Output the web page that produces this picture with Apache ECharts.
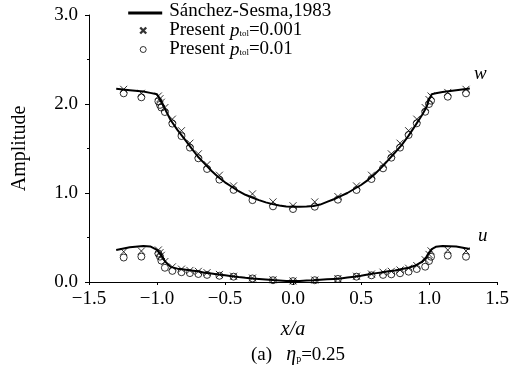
<!DOCTYPE html>
<html>
<head>
<meta charset="utf-8">
<script src="https://cdn.jsdelivr.net/npm/echarts@6/dist/echarts.min.js"></script>
<style>
  html, body { margin: 0; padding: 0; background: #fff; }
</style>
</head>
<body>
<div id="chart" style="width:516px; height:379px"></div>
<script>
// Sánchez-Sesma (1983) reference curves
var lineX = [-1.3, -1.2, -1.1, -1.05, -1.0, -0.97, -0.94, -0.9, -0.85, -0.8, -0.75, -0.7, -0.65, -0.6, -0.55, -0.5, -0.45, -0.4, -0.35, -0.3, -0.25, -0.2, -0.15, -0.1, -0.05, 0,
  0.05, 0.1, 0.15, 0.2, 0.25, 0.3, 0.35, 0.4, 0.45, 0.5, 0.55, 0.6, 0.65, 0.7, 0.75, 0.8, 0.85, 0.9, 0.95, 0.98, 1.0, 1.02, 1.05, 1.1, 1.2, 1.3];
var wLine = [2.17, 2.155, 2.14, 2.125, 2.11, 2.03, 1.94, 1.82, 1.71, 1.61, 1.51, 1.41, 1.33, 1.25, 1.18, 1.12, 1.07, 1.02, 0.98, 0.95, 0.92, 0.895, 0.875, 0.86, 0.848, 0.845,
  0.845, 0.848, 0.855, 0.87, 0.9, 0.93, 0.965, 1.0, 1.045, 1.09, 1.145, 1.21, 1.285, 1.37, 1.455, 1.54, 1.645, 1.76, 1.88, 1.96, 2.05, 2.11, 2.12, 2.135, 2.155, 2.175];
var uLine = [0.36, 0.39, 0.405, 0.40, 0.36, 0.30, 0.23, 0.17, 0.15, 0.14, 0.13, 0.12, 0.105, 0.095, 0.085, 0.075, 0.065, 0.055, 0.047, 0.04, 0.034, 0.028, 0.022, 0.017, 0.012, 0.01,
  0.012, 0.016, 0.02, 0.025, 0.03, 0.035, 0.04, 0.05, 0.058, 0.07, 0.085, 0.097, 0.108, 0.12, 0.13, 0.145, 0.16, 0.185, 0.23, 0.28, 0.33, 0.37, 0.395, 0.405, 0.40, 0.37];

// present method, sample points
var markX = [-1.245, -1.115, -0.99, -0.978, -0.968, -0.942, -0.887, -0.82, -0.758, -0.696, -0.632, -0.541, -0.437, -0.298, -0.147, 0.0,
  0.16, 0.33, 0.467, 0.577, 0.662, 0.723, 0.787, 0.85, 0.91, 0.972, 1.0, 1.015, 1.138, 1.272];
var wTol001 = [2.165, 2.12, 2.09, 2.06, 2.02, 1.96, 1.83, 1.70, 1.56, 1.44, 1.32, 1.20, 1.08, 0.99, 0.90, 0.857,
  0.90, 0.96, 1.08, 1.20, 1.32, 1.44, 1.56, 1.70, 1.83, 1.96, 2.05, 2.09, 2.13, 2.165];
var wTol01 = [2.12, 2.075, 2.03, 1.99, 1.96, 1.91, 1.78, 1.64, 1.51, 1.39, 1.27, 1.15, 1.035, 0.92, 0.85, 0.82,
  0.846, 0.925, 1.034, 1.157, 1.277, 1.397, 1.51, 1.652, 1.783, 1.913, 2.0, 2.037, 2.082, 2.12];
var uTol001 = [0.34, 0.348, 0.36, 0.33, 0.30, 0.23, 0.17, 0.145, 0.13, 0.12, 0.105, 0.085, 0.065, 0.045, 0.025, 0.012,
  0.022, 0.038, 0.065, 0.09, 0.11, 0.12, 0.135, 0.155, 0.185, 0.25, 0.31, 0.35, 0.36, 0.348];
var uTol01 = [0.275, 0.285, 0.32, 0.285, 0.24, 0.16, 0.125, 0.11, 0.10, 0.09, 0.08, 0.07, 0.06, 0.04, 0.02, 0.01,
  0.02, 0.035, 0.06, 0.075, 0.08, 0.086, 0.098, 0.116, 0.146, 0.172, 0.236, 0.284, 0.296, 0.284];

var font = "'Liberation Serif', 'DejaVu Serif', serif";

function pairs(xs, ys) {
  var out = [];
  for (var i = 0; i < xs.length; i++) out.push([xs[i], ys[i]]);
  return out;
}

var chart = echarts.init(document.getElementById("chart"));

var crossSym = "path://M0,0L10,10M10,0L0,10";
var nameLine = "Sánchez-Sesma,1983";
var name001 = "Present p001";
var name01 = "Present p01";

chart.setOption({
  animation: false,
  backgroundColor: "#fff",
  textStyle: { fontFamily: font, color: "#000" },
  grid: { left: 89, right: 19, top: 15, bottom: 97 },
  title: {
    text: "(a)   {e|η}{s|p}=0.25",
    left: 298,
    textAlign: "center",
    top: 345,
    padding: 0,
    textStyle: {
      fontFamily: font, fontSize: 19, fontWeight: "normal", color: "#000",
      rich: {
        e: { fontFamily: font, fontSize: 20, fontStyle: "italic" },
        s: { fontFamily: font, fontSize: 10, padding: [8, 0, 0, 0] }
      }
    }
  },
  legend: {
    orient: "vertical",
    left: 127,
    top: 2,
    padding: 0,
    itemWidth: 36,
    itemHeight: 14,
    itemGap: 0,
    selectedMode: false,
    textStyle: {
      fontFamily: font, fontSize: 19, color: "#000", lineHeight: 17,
      rich: {
        i: { fontFamily: font, fontSize: 19, fontStyle: "italic", lineHeight: 17 },
        s: { fontFamily: font, fontSize: 9, padding: [6, 0, 0, 0], lineHeight: 11 }
      }
    },
    formatter: function (n) {
      if (n === name001) return "Present {i|p}{s|tol}=0.001";
      if (n === name01) return "Present {i|p}{s|tol}=0.01";
      return n;
    },
    data: [
      { name: nameLine, icon: "path://M0,0M36,14M0,7H34V10H0Z", itemStyle: { color: "#000", borderWidth: 0 } },
      { name: name001, icon: "path://M0,0M36,14M12,4L18,10M18,4L12,10", itemStyle: { color: "transparent", borderColor: "#000", borderWidth: 2.4 } },
      { name: name01, icon: "path://M0,0M36,14M18,7A3,3,0,1,1,12,7A3,3,0,1,1,18,7", itemStyle: { color: "transparent", borderColor: "#000", borderWidth: 1 } }
    ]
  },
  graphic: [
    { type: "text", left: 474, top: 64, style: { text: "w", font: "italic 19px " + font, fill: "#000" } },
    { type: "text", left: 478, top: 226, style: { text: "u", font: "italic 19px " + font, fill: "#000" } }
  ],
  xAxis: {
    type: "value",
    min: -1.5,
    max: 1.5,
    interval: 0.5,
    name: "x/a",
    nameLocation: "middle",
    nameGap: 38,
    nameTextStyle: { fontFamily: font, fontSize: 20, fontStyle: "italic", color: "#000" },
    axisLine: { onZero: false, lineStyle: { color: "#000", width: 1 } },
    axisTick: { show: true, length: 3, lineStyle: { color: "#000" } },
    splitLine: { show: false },
    axisLabel: {
      fontFamily: font, fontSize: 19, color: "#000", margin: 8,
      formatter: function (v) {
        return (v < 0 ? "\u2212" : "") + Math.abs(v).toFixed(1);
      }
    }
  },
  yAxis: {
    type: "value",
    min: 0,
    max: 3,
    interval: 1,
    name: "Amplitude",
    nameLocation: "middle",
    nameRotate: 90,
    nameGap: 59,
    nameTextStyle: { fontFamily: font, fontSize: 20, color: "#000" },
    axisLine: { show: true, onZero: false, lineStyle: { color: "#000", width: 1 } },
    axisTick: { show: true, length: 4, lineStyle: { color: "#000" } },
    minorTick: { show: true, splitNumber: 2, length: 2, lineStyle: { color: "#000" } },
    splitLine: { show: false },
    axisLabel: {
      fontFamily: font, fontSize: 19, color: "#000", margin: 11,
      formatter: function (v) { return v.toFixed(1); }
    }
  },
  series: [
    {
      name: nameLine, type: "line", data: pairs(lineX, wLine), symbol: "none",
      lineStyle: { color: "#000", width: 2 }, itemStyle: { color: "#000" }, z: 3
    },
    {
      name: nameLine, type: "line", data: pairs(lineX, uLine), symbol: "none",
      lineStyle: { color: "#000", width: 2 }, itemStyle: { color: "#000" }, z: 3
    },
    {
      name: name001, type: "scatter", data: pairs(markX, wTol001), symbol: crossSym, symbolSize: 7,
      itemStyle: { color: "transparent", borderColor: "#000", borderWidth: 1 }
    },
    {
      name: name001, type: "scatter", data: pairs(markX, uTol001), symbol: crossSym, symbolSize: 7,
      itemStyle: { color: "transparent", borderColor: "#000", borderWidth: 1 }
    },
    {
      name: name01, type: "scatter", data: pairs(markX, wTol01), symbol: "circle", symbolSize: 7,
      itemStyle: { color: "transparent", borderColor: "#000", borderWidth: 1 }
    },
    {
      name: name01, type: "scatter", data: pairs(markX, uTol01), symbol: "circle", symbolSize: 7,
      itemStyle: { color: "transparent", borderColor: "#000", borderWidth: 1 }
    }
  ]
});
</script>
</body>
</html>
